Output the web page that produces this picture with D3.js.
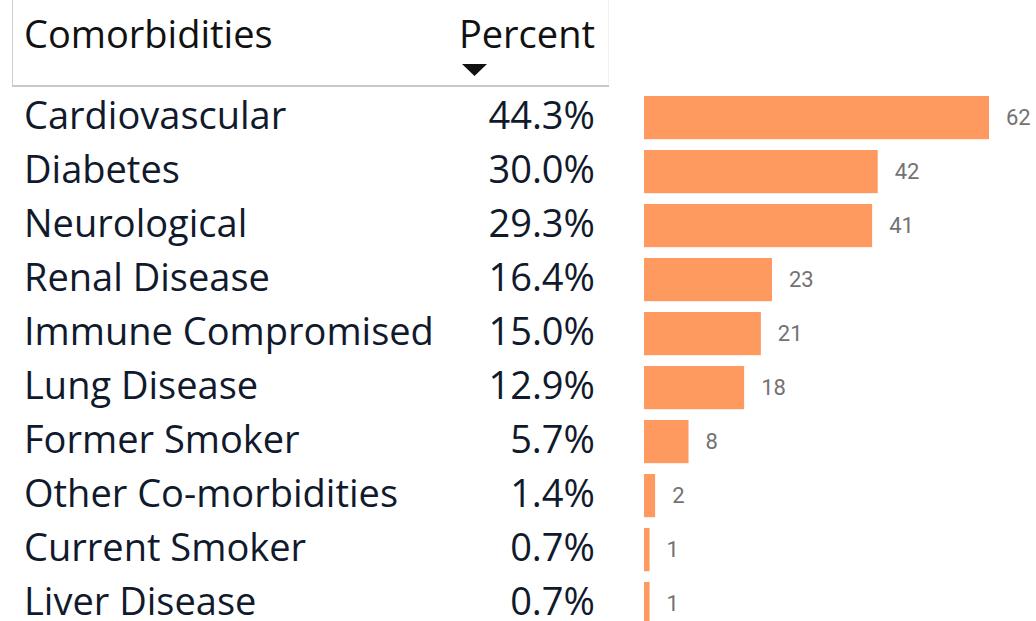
<!DOCTYPE html>
<html>
<head>
<meta charset="utf-8">
<script src="https://cdn.jsdelivr.net/npm/d3@7"></script>
<style>
  html, body { margin: 0; padding: 0; background: #fff; }
  svg { display: block; }
</style>
</head>
<body>
<svg id="chart" width="1036" height="621"></svg>
<script>
const categories = ["Cardiovascular", "Diabetes", "Neurological", "Renal Disease", "Immune Compromised",
  "Lung Disease", "Former Smoker", "Other Co-morbidities", "Current Smoker", "Liver Disease"];
const percents = ["44.3%", "30.0%", "29.3%", "16.4%", "15.0%", "12.9%", "5.7%", "1.4%", "0.7%", "0.7%"];
const counts = [62, 42, 41, 23, 21, 18, 8, 2, 1, 1];

const textFont = "'Open Sans', 'Noto Sans', sans-serif";
const textSize = 38;
const textColor = "#111a2c";

const svg = d3.select("#chart");

const y = d3.scaleBand()
  .domain(categories)
  .range([90.6, 630.6])
  .paddingInner(0.2)
  .paddingOuter(0.1);

const x = d3.scaleLinear()
  .domain([0, d3.max(counts)])
  .range([644, 989]);

// header frame
svg.append("line")
  .attr("x1", 12.5).attr("x2", 12.5).attr("y1", 0).attr("y2", 86)
  .attr("stroke", "#cccccc").attr("stroke-width", 1);
svg.append("line")
  .attr("x1", 608.5).attr("x2", 608.5).attr("y1", 0).attr("y2", 86)
  .attr("stroke", "#f0f0f0").attr("stroke-width", 1);
svg.append("line")
  .attr("x1", 12).attr("x2", 609).attr("y1", 86).attr("y2", 86)
  .attr("stroke", "#c8c8c8").attr("stroke-width", 2);

svg.append("text")
  .attr("x", 24).attr("y", 48)
  .attr("font-family", textFont).attr("font-size", textSize)
  .attr("fill", "#111")
  .text("Comorbidities");

svg.append("text")
  .attr("x", 595).attr("y", 48)
  .attr("text-anchor", "end")
  .attr("font-family", textFont).attr("font-size", textSize)
  .attr("fill", "#111")
  .text("Percent");

// sort arrow
svg.append("path")
  .attr("d", "M462,64 L487,64 L474.5,76 Z")
  .attr("fill", "#111");

// table rows
const rows = svg.append("g").selectAll("g")
  .data(categories)
  .join("g")
  .attr("transform", d => `translate(0,${y(d) + y.bandwidth() / 2 + 11.5})`);

rows.append("text")
  .attr("x", 24)
  .attr("font-family", textFont).attr("font-size", textSize)
  .attr("fill", textColor)
  .text(d => d);

rows.append("text")
  .attr("x", 595)
  .attr("text-anchor", "end")
  .attr("font-family", textFont).attr("font-size", textSize)
  .attr("fill", textColor)
  .text((d, i) => percents[i]);

// bars
svg.append("g").selectAll("rect")
  .data(categories)
  .join("rect")
  .attr("x", x(0))
  .attr("y", d => y(d))
  .attr("width", (d, i) => x(counts[i]) - x(0))
  .attr("height", y.bandwidth())
  .attr("fill", "#fe9960");

svg.append("g").selectAll("text")
  .data(categories)
  .join("text")
  .attr("x", (d, i) => x(counts[i]) + 17)
  .attr("y", d => y(d) + y.bandwidth() / 2)
  .attr("dy", "0.35em")
  .attr("font-family", "Roboto, sans-serif")
  .attr("font-size", 22)
  .attr("fill", "#727272")
  .text((d, i) => counts[i]);
</script>
</body>
</html>
